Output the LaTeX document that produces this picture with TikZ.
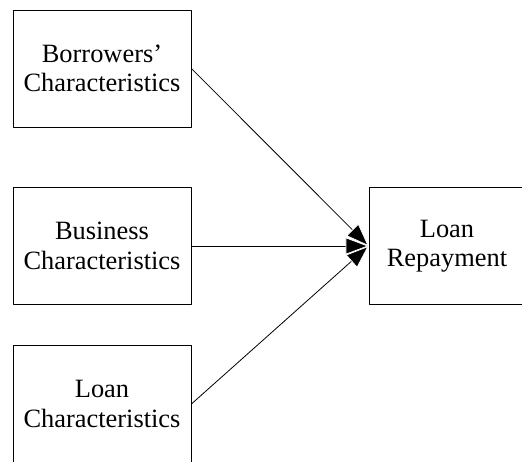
\documentclass[tikz,border=0pt]{standalone}
\usepackage{fontspec}
\setmainfont{Liberation Serif}
\usetikzlibrary{arrows.meta}
\tikzset{
	factor/.style={draw, line width=0.8pt, minimum width=178pt, minimum height=117pt, align=center, inner sep=0pt},
	outcome/.style={factor, minimum width=156pt},
	link/.style={line width=0.8pt, -{Triangle[length=23pt, width=17pt, color=white, fill=black, line width=0.7pt]}}
}
\begin{document}
\begin{tikzpicture}[x=1pt, y=-1pt, font=\fontsize{26.4}{29.5}\selectfont, line join=round]
	\useasboundingbox (0,0) rectangle (522,461);
	\node[factor] (borrower) at (102,68.5) {Borrowers'\\Characteristics};
	\node[factor] (business) at (102,246) {Business\\Characteristics};
	\node[factor] (loan) at (102,404) {Loan\\Characteristics};
	\node[outcome] (repay) at (447,246) {Loan\\Repayment};
	\draw[link] (borrower.east) -- (repay.west);
	\draw[link] (business.east) -- (repay.west);
	\draw[link] (loan.east) -- (repay.west);
\end{tikzpicture}
\end{document}
